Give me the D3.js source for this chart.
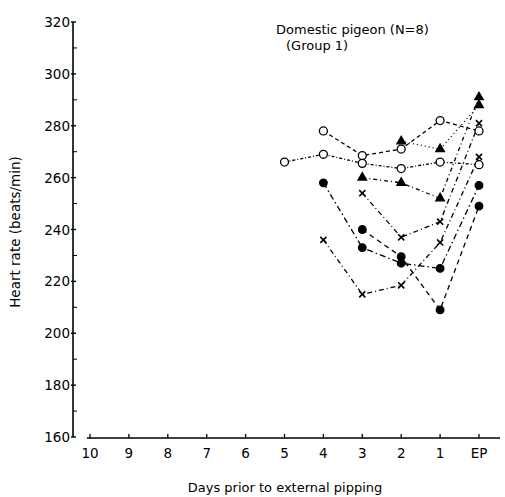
<!DOCTYPE html>
<html>
<head>
<meta charset="utf-8">
<script src="https://cdn.jsdelivr.net/npm/d3@7"></script>
<style>
  body { margin: 0; background: #fff; }
  text { font-family: "DejaVu Sans", sans-serif; fill: #000; }
</style>
</head>
<body>
<script>
// axis categories and ticks
const days = ["10", "9", "8", "7", "6", "5", "4", "3", "2", "1", "EP"];
const yTicks = [160, 180, 200, 220, 240, 260, 280, 300, 320];

// days that carry data
const dataDays = ["5", "4", "3", "2", "1", "EP"];

// one array per bird (null = no record)
const openA  = [null, 278, 268.5, 271, 282, 278];
const openB  = [266, 269, 265.5, 263.5, 266, 265];
const triA   = [null, null, 260, 258, 252, 291];
const triB   = [null, null, null, 274, 271, 288];
const crossA = [null, null, 254, 237, 243, 281];
const crossB = [null, 236, 215, 218.5, 235, 268];
const dotA   = [null, 258, 233, 227, 225, 257];
const dotB   = [null, null, 240, 229.5, 209, 249];

const birds = [
  { vals: openA,  mark: "open",  dash: "4,3" },
  { vals: openB,  mark: "open",  dash: "3,2,1,2" },
  { vals: triA,   mark: "tri",   dash: "4,3,1,3" },
  { vals: triB,   mark: "tri",   dash: "1,3" },
  { vals: crossA, mark: "cross", dash: "5,3,1,3" },
  { vals: crossB, mark: "cross", dash: "5,3,1,3" },
  { vals: dotA,   mark: "dot",   dash: "6,3,1.5,3" },
  { vals: dotB,   mark: "dot",   dash: "5,4" }
];

const W = 505, H = 497;
const svg = d3.select("body").append("svg").attr("width", W).attr("height", H);

const x = d3.scalePoint().domain(days).range([90, 479]);
const y = d3.scaleLinear().domain([160, 320]).range([437, 22]);

// y axis
const yAx = svg.append("g").attr("transform", "translate(73,0)");
yAx.append("line").attr("y1", y(320)).attr("y2", y(160)).attr("stroke", "#000").attr("stroke-width", 1.6);
yAx.selectAll(".mt").data(d3.range(170, 320, 20)).enter().append("line")
  .attr("x1", 0).attr("x2", 4).attr("y1", d => y(d)).attr("y2", d => y(d))
  .attr("stroke", "#000").attr("stroke-width", 1);
yAx.selectAll(".mj").data(yTicks).enter().append("line")
  .attr("x1", -2).attr("x2", 3).attr("y1", d => y(d)).attr("y2", d => y(d))
  .attr("stroke", "#000").attr("stroke-width", 1.4);
yAx.selectAll(".yl").data(yTicks).enter().append("text")
  .attr("x", -3).attr("y", d => y(d) + 5)
  .attr("text-anchor", "end").attr("font-size", 13.5).text(d => d);

// x axis
const xAx = svg.append("g").attr("transform", "translate(0,438)");
xAx.append("line").attr("x1", 87).attr("x2", 500).attr("stroke", "#000").attr("stroke-width", 1.3);
xAx.selectAll(".xt").data(days).enter().append("line")
  .attr("x1", d => x(d)).attr("x2", d => x(d)).attr("y1", 0).attr("y2", -4)
  .attr("stroke", "#000").attr("stroke-width", 1.3);
xAx.selectAll(".xl").data(days).enter().append("text")
  .attr("x", d => x(d)).attr("y", 20)
  .attr("text-anchor", "middle").attr("font-size", 13.5).text(d => d);

// axis titles
svg.append("text").attr("x", 285).attr("y", 492).attr("text-anchor", "middle")
  .attr("font-size", 13).text("Days prior to external pipping");
svg.append("text").attr("transform", "translate(20,232) rotate(-90)")
  .attr("text-anchor", "middle").attr("font-size", 13.5).text("Heart rate (beats/min)");

// caption
svg.append("text").attr("x", 276).attr("y", 34).attr("font-size", 13).text("Domestic pigeon (N=8)");
svg.append("text").attr("x", 286).attr("y", 50).attr("font-size", 13).text("(Group 1)");

// lines
const line = d3.line()
  .defined(d => d.v != null)
  .x(d => x(d.day)).y(d => y(d.v));

birds.forEach(b => {
  const pts = dataDays.map((day, i) => ({ day: day, v: b.vals[i] }));
  svg.append("path").datum(pts)
    .attr("d", line).attr("fill", "none")
    .attr("stroke", "#000").attr("stroke-width", 1.3)
    .attr("stroke-dasharray", b.dash);
});

// markers
const sym = {
  open: d3.symbol().type(d3.symbolCircle).size(50),
  dot: d3.symbol().type(d3.symbolCircle).size(45),
  tri: d3.symbol().type(d3.symbolTriangle).size(32),
  cross: d3.symbol().type(d3.symbolTimes).size(26)
};
birds.forEach(b => {
  const pts = dataDays.map((day, i) => ({ day: day, v: b.vals[i] })).filter(d => d.v != null);
  svg.selectAll(null).data(pts).enter().append("path")
    .attr("transform", d => `translate(${x(d.day)},${y(d.v)})`)
    .attr("d", sym[b.mark]())
    .attr("fill", b.mark === "open" ? "#fff" : (b.mark === "cross" ? "none" : "#000"))
    .attr("stroke", "#000")
    .attr("stroke-width", b.mark === "cross" ? 1.6 : 1.3);
});
</script>
</body>
</html>
